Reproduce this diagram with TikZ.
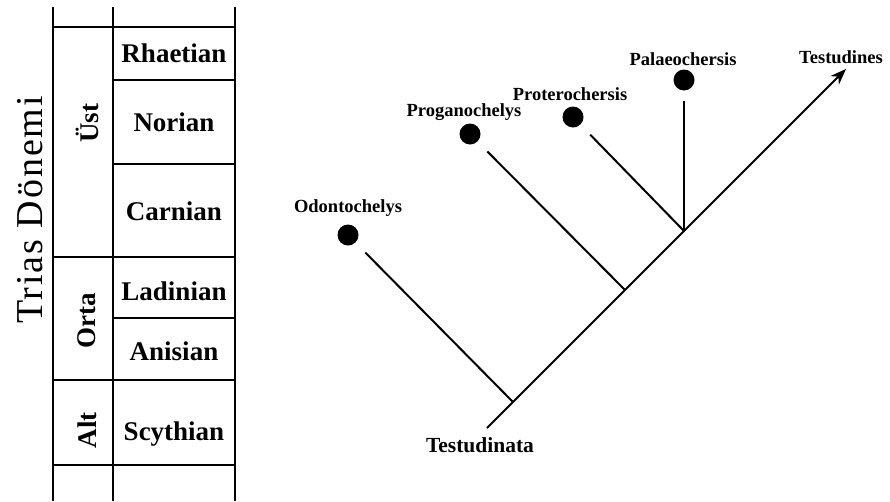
\documentclass[tikz,border=0pt]{standalone}
\usepackage{fontspec}
\setmainfont{Liberation Serif}
\usepackage{tikz}
\usetikzlibrary{arrows.meta,positioning}

\begin{document}
\begin{tikzpicture}[x=1pt, y=-1pt,
    grid/.style={line width=1.6pt},
    stage/.style={font=\fontsize{27}{30}\selectfont\bfseries},
    epoch/.style={rotate=90, font=\fontsize{27}{30}\selectfont\bfseries},
    taxon/.style={font=\fontsize{18.5}{21}\selectfont\bfseries},
    dot/.style={circle, fill=black, inner sep=0pt, minimum size=21pt},
    branch/.style={line width=2pt, shorten <=14pt}]
    \useasboundingbox (0,0) rectangle (890,501);

    % Table
    \foreach \x in {53,113,235} \draw[grid] (\x,7) -- (\x,501);
    \foreach \y in {27,257,380,465} \draw[grid] (53,\y) -- (235,\y);
    \foreach \y in {80,164,318} \draw[grid] (113,\y) -- (235,\y);

    % Period and epochs
    \node[rotate=90, font=\fontsize{38}{42}\selectfont\addfontfeatures{LetterSpace=5}] (trias) at (30,210) {Trias Dönemi};
    \node[epoch] (ust) at (87,123) {Üst};
    \node[epoch] (orta) at (87,321) {Orta};
    \node[epoch] (alt) at (87,430) {Alt};

    % Stages
    \node[stage] (rhaetian) at (174,53) {Rhaetian};
    \node[stage] (norian) at (174,122) {Norian};
    \node[stage] (carnian) at (174,211) {Carnian};
    \node[stage] (ladinian) at (174,291) {Ladinian};
    \node[stage] (anisian) at (174,351) {Anisian};
    \node[stage] (scythian) at (174,434) {Scythian};

    % Taxa
    \node[dot] (odo) at (348,235) {};
    \node[dot] (prog) at (470,134) {};
    \node[dot] (prot) at (573,117) {};
    \node[dot] (pal) at (684,80) {};
    \node[taxon] (odolabel) at (348,208) {Odontochelys};
    \node[taxon] (proglabel) at (464,112) {Proganochelys};
    \node[taxon] (protlabel) at (570,94) {Proterochersis};
    \node[taxon] (pallabel) at (683,59) {Palaeochersis};
    \node[taxon] (testudines) at (841,57) {Testudines};
    \node[font=\fontsize{21.5}{25}\selectfont\bfseries] (testudinata) at (480,445) {Testudinata};

    % Junctions
    \coordinate (root) at (487,428);
    \coordinate (j1) at (513,402);
    \coordinate (j2) at (625,290);
    \coordinate (j3) at (684,231);
    \coordinate (tip) at (846,69);

    % Branches
    \draw[line width=2pt, -{Stealth[length=16pt,width=12pt]}] (root) -- (tip);
    \draw[branch] (odo) -- (j1);
    \draw[branch] (prog) -- (j2);
    \draw[branch] (prot) -- (j3);
    \draw[branch, shorten <=10pt] (pal) -- (j3);
\end{tikzpicture}
\end{document}
